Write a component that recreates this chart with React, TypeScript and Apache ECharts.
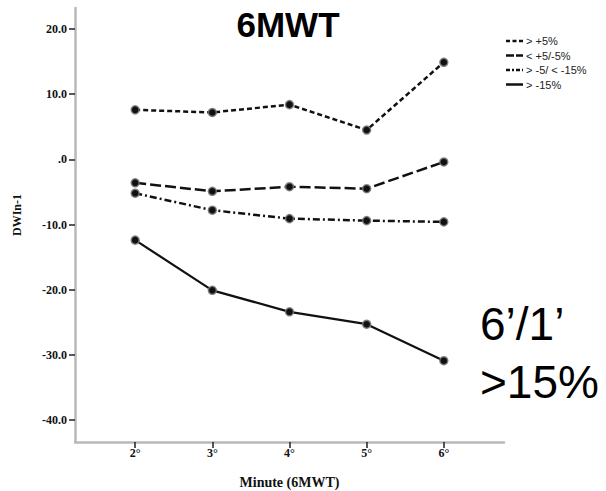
import React, { useEffect, useRef } from "react";
import * as echarts from "echarts";

const minutes = [2, 3, 4, 5, 6];
const seriesNames = ["> +5%", "< +5/-5%", "> -5/ < -15%", "> -15%"];
const above5 = [7.6, 7.2, 8.4, 4.5, 14.9];
const within5 = [-3.6, -4.9, -4.2, -4.5, -0.4];
const minus5to15 = [-5.2, -7.8, -9.1, -9.4, -9.6];
const below15 = [-12.4, -20.1, -23.4, -25.3, -30.9];
const yTicks = [20, 10, 0, -10, -20, -30, -40];
const titleText = "6MWT";
const annotationLines = ["6’/1’", ">15%"];
const xAxisName = "Minute (6MWT)";
const yAxisName = "DWIn-1";

const dashes: (number[] | "solid")[] = [[5, 3], [11, 4], [7, 3, 2, 3], "solid"];
const legendDashes: (number[] | "solid")[] = [[4, 2.5], [8, 2], [4, 2, 2, 2], "solid"];
const serif = "'Liberation Serif', 'DejaVu Serif', serif";
const sans = "'Liberation Sans', Arial, sans-serif";

export default function App() {
  const ref = useRef<HTMLDivElement>(null);
  useEffect(() => {
    if (!ref.current) return;
    const chart = echarts.init(ref.current, null, { renderer: "svg" });
    const allSeries = [above5, within5, minus5to15, below15];
    const legendY = [41, 55.5, 70, 84.5];
    const legendGraphics: any[] = [];
    seriesNames.forEach((name, i) => {
      legendGraphics.push({
        type: "line",
        shape: { x1: 506, y1: legendY[i], x2: 523, y2: legendY[i] },
        style: {
          stroke: "#111",
          lineWidth: 2.5,
          lineDash: legendDashes[i] === "solid" ? null : legendDashes[i],
        },
      });
      legendGraphics.push({
        type: "text",
        x: 526,
        y: legendY[i],
        style: {
          text: name,
          fontFamily: sans,
          fontSize: 11,
          fill: "#222",
          align: "left",
          verticalAlign: "middle",
        },
      });
    });
    chart.setOption({
      animation: false,
      backgroundColor: "#fff",
      grid: {
        left: 75,
        top: 8,
        right: 102,
        bottom: 49,
        containLabel: false,
        outerBoundsMode: "none",
      },
      xAxis: {
        type: "value",
        min: 1.22,
        max: 6.78,
        name: xAxisName,
        nameLocation: "middle",
        nameGap: 33,
        nameTextStyle: { fontFamily: serif, fontWeight: "bold", fontSize: 14, color: "#111" },
        axisLine: { onZero: false, lineStyle: { color: "#b8b8b8", width: 2.5 } },
        axisTick: { show: true, length: 6, customValues: minutes, lineStyle: { color: "#222", width: 1.5 } },
        axisLabel: {
          customValues: minutes,
          formatter: (v: number) => `${v}°`,
          fontFamily: serif,
          fontWeight: "bold",
          fontSize: 12,
          color: "#111",
          margin: 5,
        },
        splitLine: { show: false },
      },
      yAxis: {
        type: "value",
        min: -43.38,
        max: 23.23,
        name: yAxisName,
        nameLocation: "middle",
        nameGap: 52,
        nameTextStyle: { fontFamily: serif, fontWeight: "bold", fontSize: 12, color: "#111", padding: [0, 0, 0, 20] },
        axisLine: { onZero: false, lineStyle: { color: "#b8b8b8", width: 2.5 } },
        axisTick: { show: true, length: 6, customValues: yTicks, lineStyle: { color: "#222", width: 1.5 } },
        axisLabel: {
          customValues: yTicks,
          formatter: (v: number) => (v === 0 ? ".0" : v.toFixed(1)),
          fontFamily: serif,
          fontWeight: "bold",
          fontSize: 12,
          color: "#111",
          margin: 8,
        },
        splitLine: { show: false },
      },
      series: allSeries.map((vals, i) => ({
        name: seriesNames[i],
        type: "line",
        data: minutes.map((m, j) => [m, vals[j]]),
        symbol: "circle",
        symbolSize: 8,
        lineStyle: { color: "#111", width: i === 3 ? 2.2 : 2.5, type: dashes[i] },
        itemStyle: { color: "#111", borderColor: "rgba(120,120,120,0.85)", borderWidth: 1.5 },
      })),
      graphic: [
        {
          type: "text",
          x: 288,
          y: 24,
          style: {
            text: titleText,
            fontFamily: sans,
            fontWeight: "bold",
            fontSize: 35,
            fill: "#000",
            align: "center",
            verticalAlign: "middle",
          },
        },
        {
          type: "text",
          x: 480,
          y: 324,
          style: {
            text: annotationLines[0],
            fontFamily: sans,
            fontSize: 46,
            fill: "#000",
            align: "left",
            verticalAlign: "middle",
          },
        },
        {
          type: "text",
          x: 480,
          y: 382,
          style: {
            text: annotationLines[1],
            fontFamily: sans,
            fontSize: 46,
            fill: "#000",
            align: "left",
            verticalAlign: "middle",
          },
        },
        ...legendGraphics,
      ],
    });
    return () => chart.dispose();
  }, []);
  return (
    <div
      ref={ref}
      style={{ position: "fixed", left: 0, top: 0, width: 606, height: 491, background: "#fff" }}
    />
  );
}
